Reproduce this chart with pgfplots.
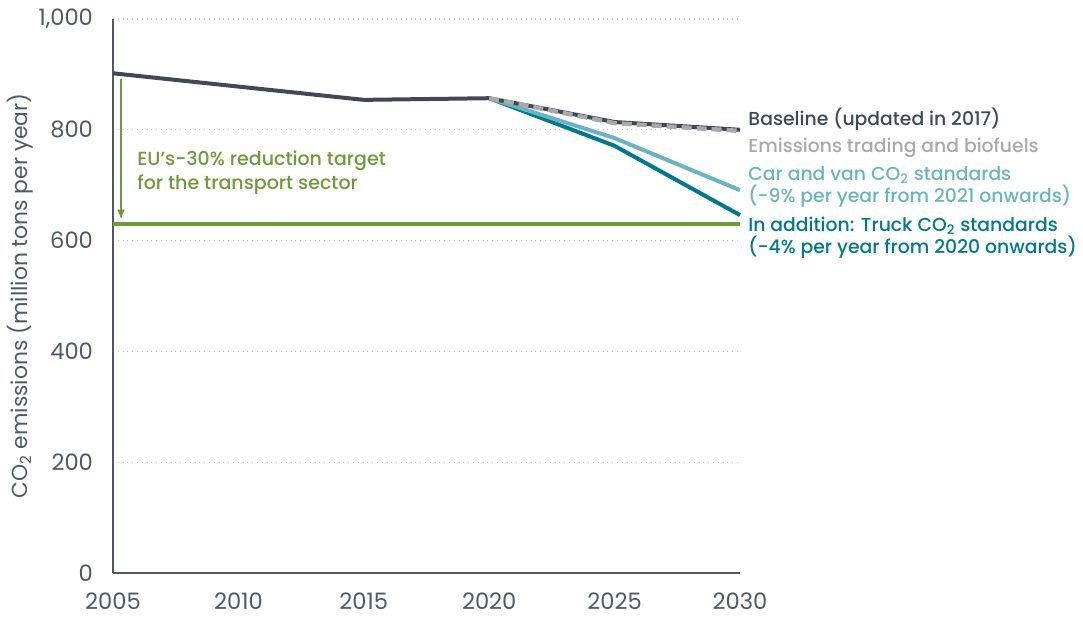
\documentclass[border=0pt]{standalone}
\usepackage{fontspec}
\setmainfont{Poppins}
\newfontfamily\medfont{Poppins Medium}
\usepackage{pgfplots}
\pgfplotsset{compat=1.18}
\usetikzlibrary{arrows.meta}
\definecolor{basec}{HTML}{3D4A55}
\definecolor{etsc}{HTML}{A7A9AC}
\definecolor{carc}{HTML}{6AB4C1}
\definecolor{truckc}{HTML}{00798C}
\definecolor{greenc}{HTML}{6E9A3A}
\definecolor{tickc}{HTML}{4D5A66}
\begin{document}
\begin{tikzpicture}
\begin{axis}[
  scale only axis,
  width=313.5pt, height=277pt,
  xmin=2005, xmax=2030, ymin=0, ymax=1000,
  xtick={2005,2010,...,2030},
  ytick={0,200,...,1000},
  axis x line*=bottom, axis y line*=left,
  axis line style={draw=tickc, line width=0.7pt, -},
  major tick length=0pt,
  ymajorgrids,
  grid style={dotted, draw=gray!45, line width=0.6pt},
  tick label style={font=\fontsize{11.3}{13}\selectfont, text=tickc},
  /pgf/number format/assume math mode=true,
  xticklabel style={/pgf/number format/1000 sep={}, anchor=center, yshift=-14pt},
  yticklabel style={/pgf/number format/1000 sep={,}, anchor=east, xshift=-6.5pt},
  ylabel={CO\textsubscript{2} emissions (million tons per year)},
  ylabel style={font=\fontsize{10.9}{13}\selectfont, text=tickc,
    at={(axis description cs:-0.1483,0.5)}, anchor=center},
  clip=false,
]
\addplot[greenc, line width=2pt] coordinates {(2005,630)(2030,630)};
\addplot[truckc, line width=2pt] coordinates {(2020,857)(2025,771)(2030,646)};
\addplot[carc, line width=2pt] coordinates {(2020,857)(2025,785)(2030,691)};
\addplot[basec, line width=2pt] coordinates {(2005,902)(2015,854)(2020,857)(2025,814)(2030,800)};
\addplot[etsc, line width=2.2pt, dash pattern=on 5pt off 2.5pt] coordinates {(2020,857)(2025,812)(2030,798)};

\draw[greenc, line width=0.9pt, -{Latex[length=5pt,width=4pt]}] (axis cs:2005.32,892) -- (axis cs:2005.32,638);
\node[anchor=west, align=left, text=greenc, font=\medfont\fontsize{9.5}{12}\selectfont, inner sep=0pt]
  at (axis cs:2005.96,722) {EU’s-30\% reduction target\\for the transport sector};

\begin{scope}[every node/.style={anchor=west, align=left, inner sep=0pt, font=\medfont\fontsize{9.4}{11}\selectfont}]
\node[text=basec] at (axis cs:2030.32,819) {Baseline (updated in 2017)};
\node[text=etsc] at (axis cs:2030.32,768) {Emissions trading and biofuels};
\node[text=carc] at (axis cs:2030.32,697) {Car and van CO\textsubscript{2} standards\\(-9\% per year from 2021 onwards)};
\node[text=truckc] at (axis cs:2030.32,606) {In addition: Truck CO\textsubscript{2} standards\\(-4\% per year from 2020 onwards)};
\end{scope}

\path (rel axis cs:0,0) ++(-56.5pt,-21pt) coordinate (bbA);
\path (rel axis cs:1,1) ++(171.5pt,9.5pt) coordinate (bbB);
\end{axis}
\useasboundingbox (bbA) rectangle (bbB);
\end{tikzpicture}
\end{document}
